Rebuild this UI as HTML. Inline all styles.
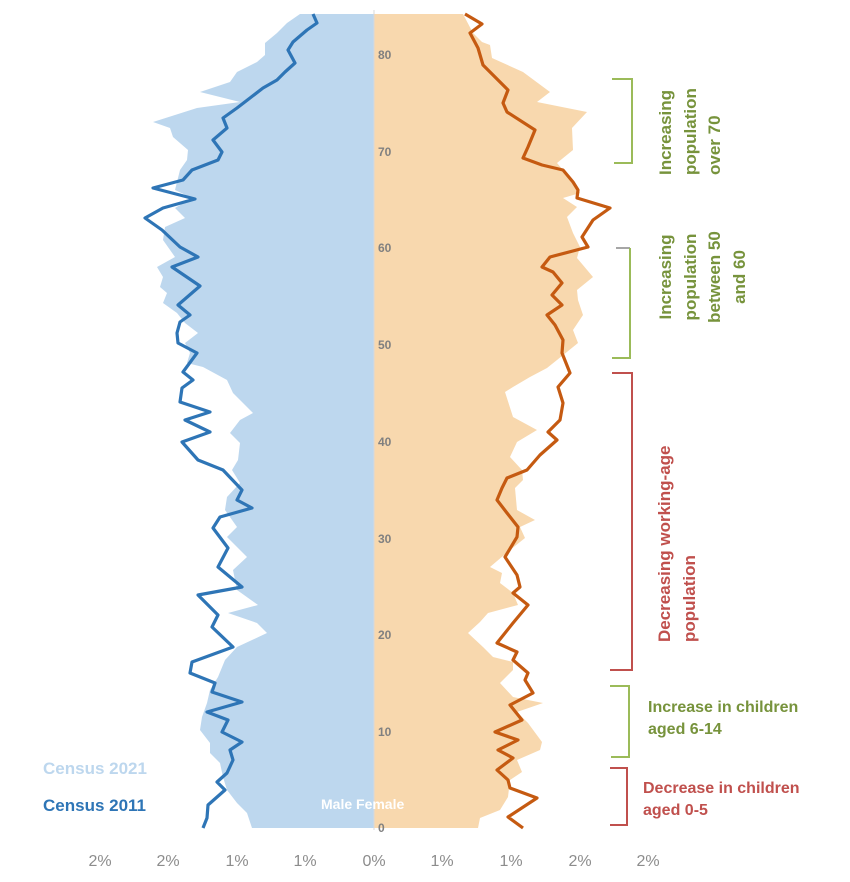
<!DOCTYPE html>
<html><head><meta charset="utf-8"><style>body{margin:0;background:#fff}svg{display:block}</style></head><body>
<svg width="850" height="882" viewBox="0 0 850 882" xmlns="http://www.w3.org/2000/svg" font-family="Liberation Sans, sans-serif">
<polygon fill="#bdd7ee" points="374,14 300,14 287,23 277,33 265,43 265,55 257,62 237,72 230,82 200,92 240,102 197,108 153,122 170,128 173,137 188,150 187,160 180,170 177,182 175,190 192,198 175,208 185,218 165,227 163,240 175,257 157,267 163,277 160,287 167,293 163,303 177,313 185,323 198,333 185,343 190,353 187,363 203,367 227,380 233,393 243,403 253,413 240,420 230,433 240,443 238,460 232,470 240,483 227,497 225,510 237,527 227,537 247,557 233,570 237,590 258,605 228,613 257,623 267,633 237,647 225,660 218,677 210,690 207,703 202,717 200,730 210,743 210,753 220,763 223,777 227,790 237,803 247,813 252,828 374,828"/>
<polygon fill="#f8d8ae" points="374,14 463,14 473,33 482,42 490,45 492,58 523,72 550,92 537,102 587,112 572,128 573,150 557,163 563,170 573,180 580,193 563,198 577,207 567,217 573,233 580,247 577,258 593,277 577,290 578,300 583,315 573,330 578,343 557,360 547,368 530,377 513,387 505,392 513,417 537,430 517,442 510,457 522,470 523,480 515,488 517,510 535,520 520,527 525,538 510,550 490,567 502,573 500,583 513,593 518,605 488,613 480,622 468,633 483,647 493,657 513,662 513,670 500,683 513,697 543,703 517,712 528,723 542,742 540,750 517,760 522,772 510,780 508,797 500,810 480,818 478,828 374,828"/>
<line x1="374" y1="10" x2="374" y2="830" stroke="#d9d9d9" stroke-width="1"/>
<polyline fill="none" stroke="#2e75b6" stroke-width="3.2" stroke-linejoin="round" points="313,14 317,23 307,30 293,42 288,50 295,63 285,72 277,80 263,88 250,98 237,108 223,118 227,128 213,140 222,152 218,160 192,170 183,180 153,188 195,199 163,208 145,218 162,230 180,247 198,257 172,267 200,286 178,305 190,315 180,322 177,333 178,343 197,353 183,372 193,380 182,388 180,402 210,412 185,420 210,432 182,442 198,460 223,470 242,490 237,500 252,508 220,517 213,528 228,548 218,567 242,587 198,595 218,615 212,627 233,647 192,662 190,673 215,683 212,692 242,702 207,712 228,720 222,732 242,742 230,750 233,760 227,773 217,782 225,790 208,805 207,818 203,828"/>
<polyline fill="none" stroke="#c55a11" stroke-width="3.2" stroke-linejoin="round" points="465,14 482,24 470,33 478,48 483,65 498,80 508,90 503,103 507,112 535,130 528,147 523,158 542,165 563,170 573,182 578,190 577,198 610,208 593,220 582,237 588,247 550,257 542,267 553,272 562,283 552,295 562,305 547,315 555,325 563,340 562,353 570,373 558,387 563,403 560,420 548,432 557,440 540,455 527,470 507,478 502,488 497,500 507,513 518,527 517,537 505,557 517,575 520,587 513,593 528,605 513,623 497,643 517,652 513,660 528,673 525,680 533,693 510,705 522,720 495,732 518,740 498,750 513,758 497,770 508,780 510,788 537,798 508,817 523,828"/>
<g fill="#808080" font-size="12" font-weight="bold">
<text x="378" y="59">80</text><text x="378" y="156">70</text><text x="378" y="252">60</text><text x="378" y="349">50</text><text x="378" y="446">40</text><text x="378" y="543">30</text><text x="378" y="639">20</text><text x="378" y="736">10</text><text x="378" y="832">0</text>
</g>
<g fill="#8c8c8c" font-size="16" text-anchor="middle">
<text x="100" y="866">2%</text><text x="168" y="866">2%</text><text x="237" y="866">1%</text><text x="305" y="866">1%</text><text x="374" y="866">0%</text><text x="442" y="866">1%</text><text x="511" y="866">1%</text><text x="580" y="866">2%</text><text x="648" y="866">2%</text>
</g>
<text x="321" y="809" fill="#fff" font-size="14" font-weight="bold">Male  Female</text>
<text x="43" y="774" fill="#bdd7ee" font-size="17" font-weight="bold">Census 2021</text>
<text x="43" y="811" fill="#2e75b6" font-size="17" font-weight="bold">Census 2011</text>
<g fill="none" stroke-width="2">
<polyline stroke="#9bbb59" points="612,79 632,79 632,163 614,163"/>
<polyline stroke="#a6a6a6" points="616,248 630,248"/>
<polyline stroke="#9bbb59" points="630,248 630,358 612,358"/>
<polyline stroke="#c0504d" points="612,373 632,373 632,670 610,670"/>
<polyline stroke="#9bbb59" points="610,686 629,686 629,757 611,757"/>
<polyline stroke="#c0504d" points="610,768 627,768 627,825 610,825"/>
</g>
<g font-size="17" font-weight="bold" fill="#77933c">
<text transform="translate(671,175) rotate(-90)">Increasing</text>
<text transform="translate(696,175) rotate(-90)">population</text>
<text transform="translate(720,175) rotate(-90)">over  70</text>
<g text-anchor="middle">
<text transform="translate(671,277) rotate(-90)">Increasing</text>
<text transform="translate(696,277) rotate(-90)">population</text>
<text transform="translate(720,277) rotate(-90)">between  50</text>
<text transform="translate(745,277) rotate(-90)">and 60</text>
</g>
<text x="648" y="712" font-size="16">Increase in children</text>
<text x="648" y="734" font-size="16">aged 6-14</text>
</g>
<g font-size="17" font-weight="bold" fill="#c0504d">
<text transform="translate(670,642) rotate(-90)">Decreasing  working-age</text>
<text transform="translate(695,642) rotate(-90)">population</text>
<text x="643" y="793" font-size="16">Decrease in children</text>
<text x="643" y="815" font-size="16">aged 0-5</text>
</g>
</svg>
</body></html>
